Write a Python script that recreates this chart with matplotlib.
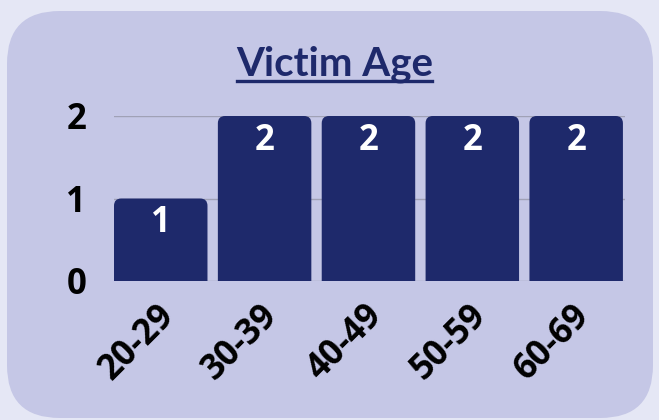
import matplotlib.pyplot as plt
import matplotlib.transforms as mtransforms
from matplotlib.patches import FancyBboxPatch

# data
age_groups = ["20-29", "30-39", "40-49", "50-59", "60-69"]
victims = [1, 2, 2, 2, 2]
y_ticks = [0, 1, 2]

navy = "#1e296b"
panel = "#c5c7e6"
outer = "#e5e7f5"

fig = plt.figure(figsize=(6.59, 4.20), dpi=100)
fig.patch.set_facecolor(outer)

# rounded card behind the chart
card = FancyBboxPatch((7 / 659, 2 / 420), 646 / 659, 407 / 420,
                      boxstyle="round,pad=0,rounding_size=0.08",
                      mutation_aspect=659 / 420,
                      transform=fig.transFigure, facecolor=panel,
                      edgecolor="none", zorder=-10)
fig.patches.append(card)

ax = fig.add_axes([114 / 659, 1 - 281 / 420, 511 / 659, 165 / 420])
ax.set_facecolor("none")
ax.set_zorder(1)

bars = ax.bar(range(len(age_groups)), victims, width=0.9, color=navy, zorder=2)

ax.set_xlim(-0.45, 4.47)
ax.set_ylim(0, 2)

# swap the plain bars for ones with rounded tops
px_x = 511 / 4.92
px_y = 165 / 2
for b in bars:
    x, w, h = b.get_x(), b.get_width(), b.get_height()
    b.set_visible(False)
    rb = FancyBboxPatch((x, -0.3), w, h + 0.3,
                        boxstyle="round,pad=0,rounding_size=0.07",
                        mutation_aspect=px_x / px_y,
                        facecolor=navy, edgecolor="none", zorder=2)
    ax.add_patch(rb)
    ax.text(x + w / 2, h - 0.3, str(h), ha="center", va="center",
            color="white", fontsize=25, fontweight="bold",
            family="Open Sans", zorder=3)

for s in ax.spines.values():
    s.set_visible(False)

ax.set_yticks(y_ticks)
ax.set_yticklabels([str(t) for t in y_ticks], fontsize=25, fontweight="bold",
                   family="Open Sans")
ax.tick_params(axis="y", length=0, pad=20)
for t in y_ticks:
    ax.axhline(t, color="#a0a1b6", linewidth=1, zorder=1)

ax.set_xticks(range(len(age_groups)))
ax.set_xticklabels(age_groups, rotation=45, ha="right", va="top",
                   fontsize=25, fontweight="bold", family="Open Sans")
ax.tick_params(axis="x", length=0, pad=12)
offset = mtransforms.ScaledTranslation(21 / 100, 0, fig.dpi_scale_trans)
for lbl in ax.get_xticklabels():
    lbl.set_transform(lbl.get_transform() + offset)

fig.text(335 / 659, 1 - 64 / 420, "Victim Age", ha="center", va="center",
         fontsize=29, fontweight="bold", family="Lato", color=navy)
fig.add_artist(plt.Line2D([237 / 659, 432 / 659], [1 - 81 / 420, 1 - 81 / 420],
                          color=navy, linewidth=2.4))

fig.savefig("out.png", dpi=100, facecolor=outer)
